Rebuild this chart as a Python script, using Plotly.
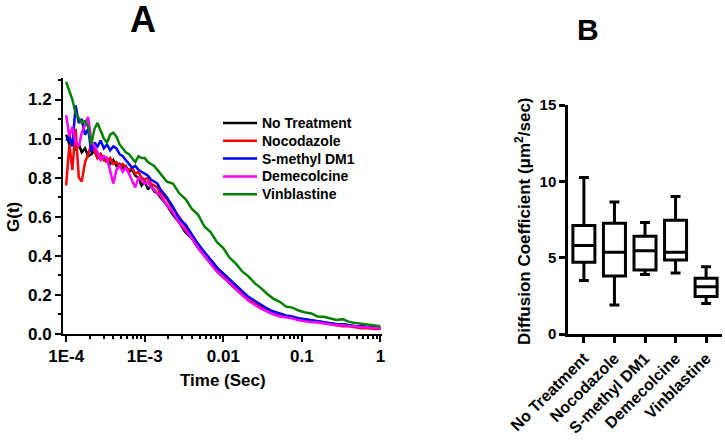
import plotly.graph_objects as go

# time axis (sec), shared by all FCS curves
time_sec = [
    1.00e-4, 1.10e-4, 1.20e-4, 1.32e-4, 1.45e-4, 1.58e-4, 1.74e-4, 1.91e-4, 2.09e-4, 2.29e-4,
    2.51e-4, 2.75e-4, 3.02e-4, 3.31e-4, 3.63e-4, 3.98e-4, 4.37e-4, 4.79e-4, 5.25e-4, 5.75e-4,
    6.31e-4, 6.92e-4, 7.59e-4, 8.32e-4, 9.12e-4, 1.00e-3, 1.10e-3, 1.20e-3, 1.32e-3, 1.45e-3,
    1.58e-3,
    1.91e-3, 2.29e-3, 2.75e-3, 3.31e-3, 3.98e-3, 4.79e-3, 5.75e-3, 6.92e-3, 8.32e-3, 1.00e-2,
    1.20e-2, 1.45e-2, 1.74e-2, 2.09e-2, 2.51e-2, 3.02e-2, 3.63e-2, 4.37e-2, 5.25e-2, 6.31e-2,
    7.59e-2, 9.12e-2, 0.110, 0.132, 0.158, 0.191, 0.229, 0.275, 0.331, 0.398,
    0.479, 0.575, 0.692, 0.832, 1.00,
]

g_no_treatment = [
    1.02, 0.97, 0.99, 0.94, 0.97, 0.93, 0.95, 0.91, 0.92, 0.94,
    0.90, 0.92, 0.89, 0.90, 0.87, 0.89, 0.86, 0.87, 0.85, 0.86,
    0.83, 0.84, 0.81, 0.80, 0.76, 0.78, 0.74, 0.76, 0.73, 0.72,
    0.70,
    0.66, 0.61, 0.57, 0.52, 0.49, 0.44, 0.40, 0.36, 0.32, 0.29,
    0.26, 0.23, 0.20, 0.18, 0.155, 0.14, 0.12, 0.11, 0.10, 0.09,
    0.085, 0.08, 0.075, 0.07, 0.065, 0.06, 0.055, 0.05, 0.05, 0.045,
    0.04, 0.04, 0.035, 0.035, 0.03,
]
g_nocodazole = [
    0.76, 0.97, 0.84, 1.05, 0.80, 0.78, 0.88, 0.92, 0.97, 0.93,
    0.90, 0.92, 0.89, 0.88, 0.90, 0.87, 0.88, 0.86, 0.87, 0.85,
    0.84, 0.85, 0.82, 0.83, 0.80, 0.79, 0.80, 0.77, 0.76, 0.75,
    0.72,
    0.69, 0.64, 0.60, 0.55, 0.50, 0.46, 0.41, 0.38, 0.34, 0.30,
    0.27, 0.24, 0.21, 0.18, 0.16, 0.14, 0.125, 0.11, 0.10, 0.09,
    0.08, 0.075, 0.07, 0.065, 0.06, 0.055, 0.05, 0.045, 0.04, 0.04,
    0.035, 0.03, 0.03, 0.025, 0.025,
]
g_smethyl_dm1 = [
    0.99, 1.01, 0.96, 1.17, 1.08, 1.10, 1.02, 1.05, 0.93, 0.98,
    0.96, 0.99, 0.95, 0.97, 0.94, 0.96, 0.95, 0.92, 0.91, 0.89,
    0.87, 0.85, 0.86, 0.84, 0.83, 0.82, 0.81, 0.79, 0.78, 0.77,
    0.74,
    0.70, 0.65, 0.59, 0.56, 0.51, 0.46, 0.42, 0.38, 0.34, 0.31,
    0.28, 0.25, 0.22, 0.19, 0.17, 0.15, 0.13, 0.115, 0.105, 0.095,
    0.09, 0.08, 0.075, 0.07, 0.065, 0.06, 0.055, 0.05, 0.05, 0.045,
    0.04, 0.04, 0.035, 0.035, 0.03,
]
g_demecolcine = [
    1.12, 1.01, 1.06, 0.98, 0.96, 1.03, 1.07, 1.11, 0.99, 0.96,
    0.93, 0.89, 0.91, 0.90, 0.84, 0.77, 0.84, 0.86, 0.83, 0.85,
    0.82, 0.78, 0.75, 0.80, 0.79, 0.77, 0.78, 0.75, 0.74, 0.72,
    0.71,
    0.66, 0.62, 0.57, 0.53, 0.49, 0.44, 0.40, 0.36, 0.32, 0.29,
    0.26, 0.23, 0.20, 0.17, 0.15, 0.13, 0.115, 0.10, 0.09, 0.085,
    0.08, 0.07, 0.065, 0.06, 0.06, 0.055, 0.05, 0.045, 0.045, 0.04,
    0.04, 0.035, 0.035, 0.03, 0.03,
]
g_vinblastine = [
    1.29, 1.24, 1.20, 1.13, 1.10, 1.08, 1.09, 1.06, 0.97, 1.05,
    1.08, 1.04, 1.00, 0.98, 1.02, 1.03, 1.01, 0.97, 0.95, 0.93,
    0.92, 0.90, 0.88, 0.91, 0.90, 0.90, 0.88, 0.87, 0.86, 0.84,
    0.82,
    0.78, 0.77, 0.72, 0.69, 0.64, 0.61, 0.55, 0.52, 0.47, 0.44,
    0.39, 0.36, 0.32, 0.295, 0.26, 0.235, 0.205, 0.18, 0.165, 0.14,
    0.135, 0.12, 0.11, 0.105, 0.09, 0.088, 0.08, 0.072, 0.076, 0.062,
    0.056, 0.052, 0.049, 0.045, 0.04,
]

curve_names = ["No Treatment", "Nocodazole", "S-methyl DM1", "Demecolcine", "Vinblastine"]
curve_colors = ["#000000", "#ff0000", "#0000ff", "#ff00ff", "#008000"]
curve_values = [g_no_treatment, g_nocodazole, g_smethyl_dm1, g_demecolcine, g_vinblastine]

# panel B box plot summary (um^2/sec)
box_labels = ["No Treatment", "Nocodazole", "S-methyl DM1", "Demecolcine", "Vinblastine"]
box_lower = [3.5, 1.9, 3.9, 4.0, 2.0]
box_q1 = [4.7, 3.8, 4.2, 4.85, 2.45]
box_median = [5.8, 5.35, 5.45, 5.35, 3.1]
box_q3 = [7.1, 7.25, 6.4, 7.45, 3.65]
box_upper = [10.25, 8.65, 7.3, 9.0, 4.4]

x_tickvals = [1e-4, 1e-3, 1e-2, 1e-1, 1]
x_ticktext = ["1E-4", "1E-3", "0.01", "0.1", "1"]

W, H = 725, 440

fig = go.Figure()

for name, color, vals in zip(curve_names, curve_colors, curve_values):
    fig.add_trace(go.Scatter(
        x=time_sec, y=vals, name=name, mode="lines",
        line=dict(color=color, width=2.5),
        xaxis="x", yaxis="y", showlegend=False,
    ))

fig.add_trace(go.Box(
    x=box_labels, q1=box_q1, median=box_median, q3=box_q3,
    lowerfence=box_lower, upperfence=box_upper,
    xaxis="x2", yaxis="y2", showlegend=False,
    line=dict(color="black", width=3), fillcolor="white",
    width=0.72, whiskerwidth=0.45,
))

# hand-placed legend (tighter row spacing than plotly's own legend)
legend_x0, legend_y0, legend_dy = 223, 123, 17.8
for i, (name, color) in enumerate(zip(curve_names, curve_colors)):
    yy = (H - (legend_y0 + i * legend_dy)) / H
    fig.add_shape(type="line", xref="paper", yref="paper",
                  x0=legend_x0 / W, x1=(legend_x0 + 34) / W, y0=yy, y1=yy,
                  line=dict(color=color, width=2.5))
    fig.add_annotation(text=name, x=(legend_x0 + 37) / W, y=yy, xref="paper", yref="paper",
                       xanchor="left", yanchor="middle", showarrow=False, font=dict(size=14))

font_family = "Liberation Sans, Arial, sans-serif"
minor_x = [m * 10 ** e for e in range(-4, 0) for m in range(2, 10)]

fig.update_layout(
    width=W, height=H,
    margin=dict(l=0, r=0, t=0, b=0, autoexpand=False),
    paper_bgcolor="white", plot_bgcolor="white",
    font=dict(family=font_family, color="black", weight="bold"),
    showlegend=False,
    xaxis=dict(
        type="log", domain=[63 / W, 382 / W], range=[-4.04, 0.02],
        tickvals=x_tickvals, ticktext=x_ticktext,
        showline=True, linecolor="black", linewidth=2,
        ticks="outside", ticklen=6, tickwidth=2, tickcolor="black",
        showgrid=False, zeroline=False, automargin=False,
        tickfont=dict(size=17),
        minor=dict(tickmode="array", tickvals=minor_x, ticks="outside",
                   ticklen=3, tickwidth=1.5, tickcolor="black", showgrid=False),
        anchor="y",
    ),
    yaxis=dict(
        domain=[106 / H, 362 / H], range=[0, 1.31],
        dtick=0.2, tickformat=".1f",
        showline=True, linecolor="black", linewidth=2,
        ticks="outside", ticklen=6, tickwidth=2, tickcolor="black",
        showgrid=False, zeroline=False, automargin=False,
        tickfont=dict(size=17),
        minor=dict(dtick=0.1, ticks="outside", ticklen=3, tickwidth=1.5,
                   tickcolor="black", showgrid=False),
        anchor="x",
    ),
    xaxis2=dict(
        domain=[568 / W, 722 / W], range=[-0.52, 4.52],
        type="category", categoryorder="array", categoryarray=box_labels,
        showline=True, linecolor="black", linewidth=2.5,
        ticks="outside", ticklen=6, tickwidth=2.5, tickcolor="black",
        showgrid=False, zeroline=False, automargin=False,
        tickangle=-45, tickfont=dict(size=16),
        anchor="y2",
    ),
    yaxis2=dict(
        domain=[106 / H, 335 / H], range=[0, 15],
        tickvals=[0, 5, 10, 15],
        showline=True, linecolor="black", linewidth=2.5,
        ticks="outside", ticklen=6, tickwidth=2.5, tickcolor="black",
        showgrid=False, zeroline=False, automargin=False,
        tickfont=dict(size=15),
        anchor="x2",
    ),
)

titles = [
    dict(text="A", x=143, y=19, size=36, angle=0),
    dict(text="B", x=588, y=29, size=30, angle=0),
    dict(text="G(t)", x=13, y=217, size=17, angle=-90),
    dict(text="Time (Sec)", x=223, y=380, size=17, angle=0),
    dict(text="Diffusion Coefficient (μm<sup>2</sup>/sec)", x=523, y=221, size=17, angle=-90),
]
for t in titles:
    fig.add_annotation(text=t["text"], x=t["x"] / W, y=(H - t["y"]) / H,
                       xref="paper", yref="paper", xanchor="center", yanchor="middle",
                       showarrow=False, textangle=t["angle"], font=dict(size=t["size"]))

# drop the default 8px body margin so the figure sits at the page corner
fig.write_html("out.html", config={"displayModeBar": False},
               post_script="document.body.style.margin='0';")
